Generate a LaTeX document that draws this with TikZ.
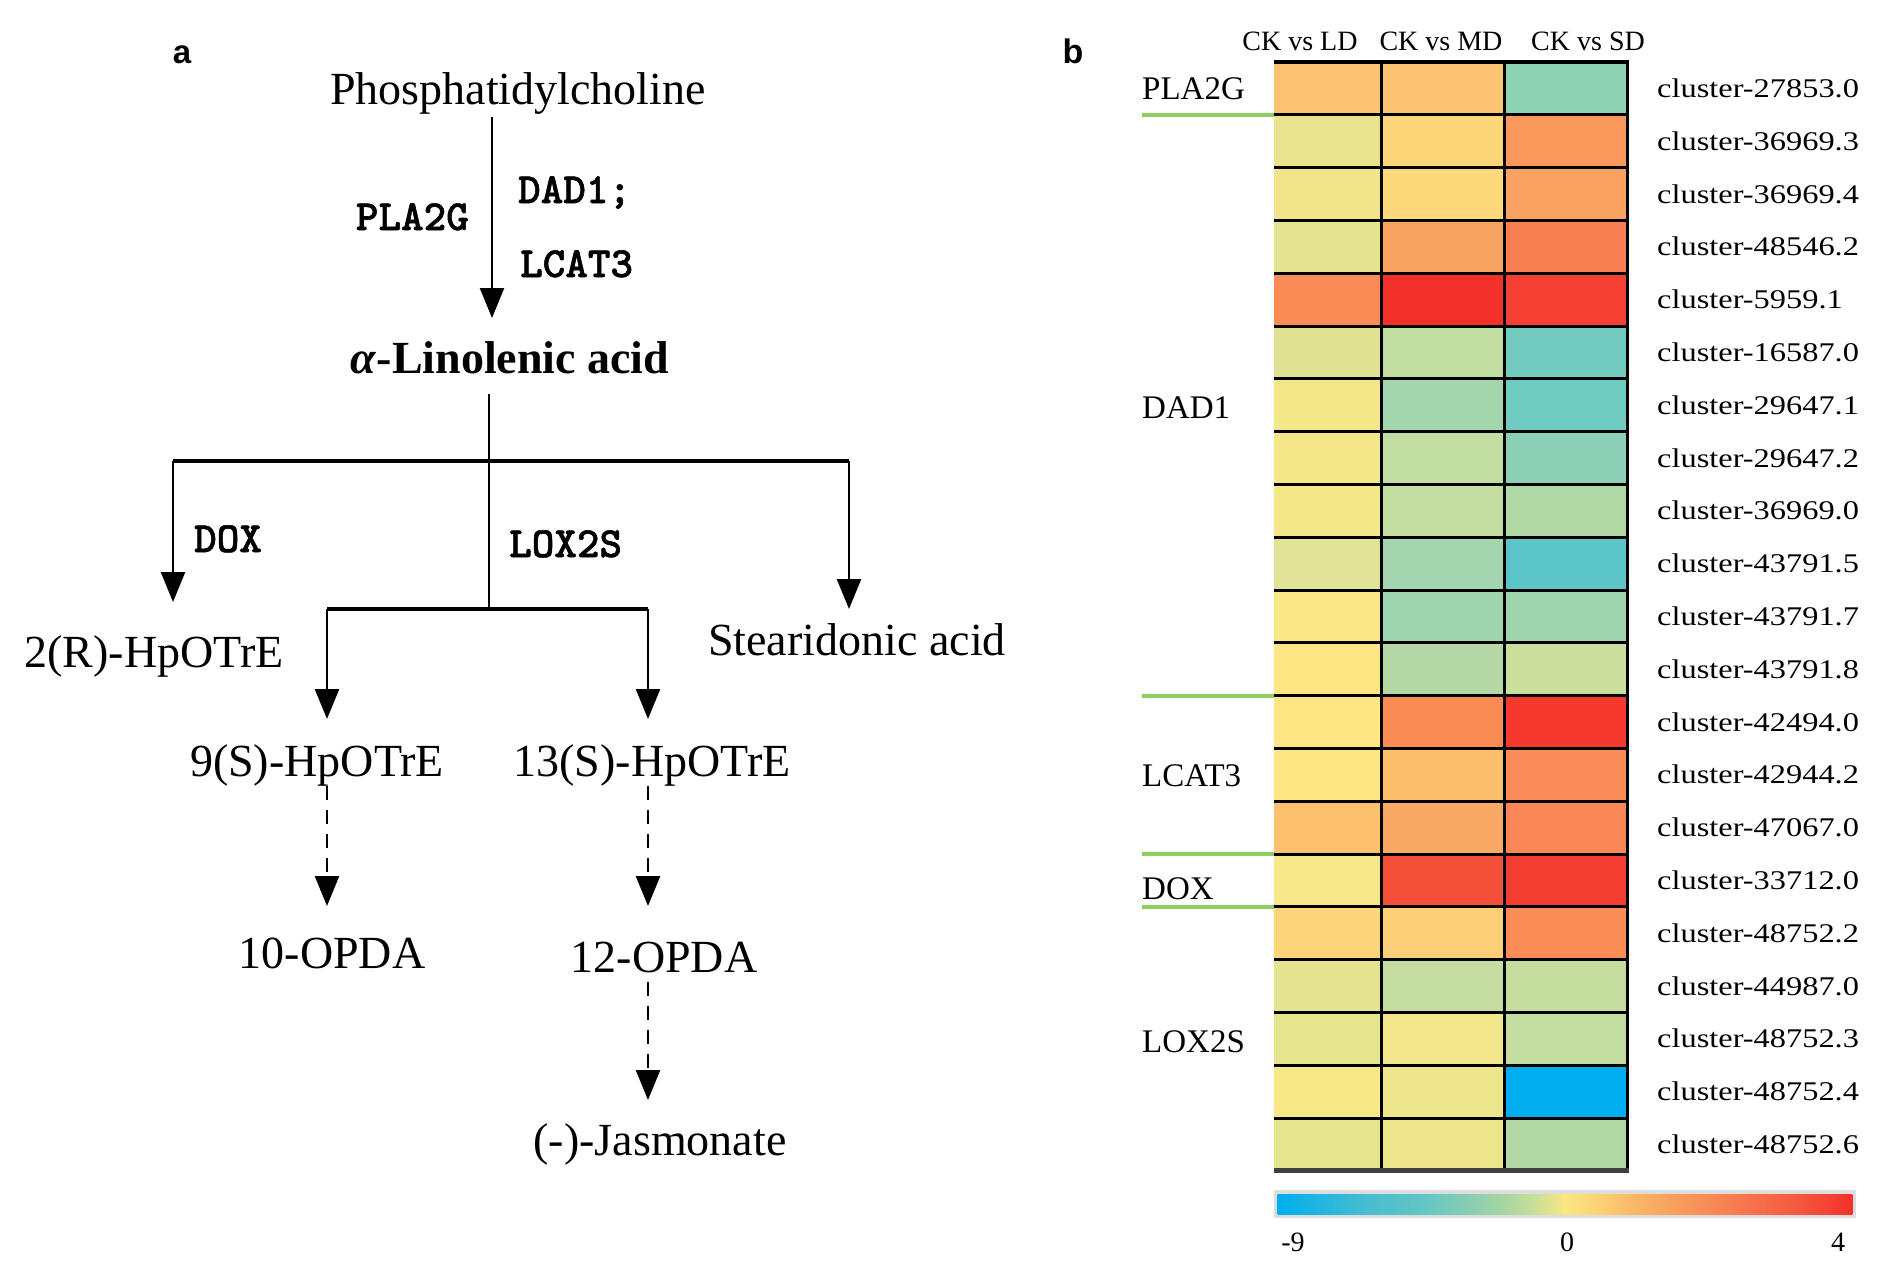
\documentclass[tikz,border=0pt]{standalone}
\usepackage{fontspec}
\setmainfont{Liberation Serif}
\newfontfamily\panelfont{Liberation Sans}
\newfontfamily\clusterfont{Liberation Serif}[FakeStretch=1.2]
\newfontfamily\enzfont{lmmonolt10-bold}[Extension=.otf, FakeBold=1.3]
\usetikzlibrary{arrows.meta}
\definecolor{linegreen}{HTML}{8CD05C}
\definecolor{barborder}{HTML}{DDDDDD}
\begin{document}
\begin{tikzpicture}[x=1pt,y=-1pt,
  mtxt/.style={font=\fontsize{46}{50}\selectfont, inner sep=0pt, anchor=base, text height=32pt, text depth=10pt},
  enz/.style={font=\fontsize{43}{46}\selectfont\enzfont, inner sep=0pt, anchor=base west},
  panel/.style={font=\fontsize{34}{36}\selectfont\panelfont\bfseries, inner sep=0pt, anchor=base},
  ln/.style={line width=2.5pt, draw=black},
  barln/.style={line width=3.5pt, draw=black},
  arr/.style={ln, -{Triangle[length=30pt,width=24pt]}},
  darr/.style={arr, dash pattern=on 14pt off 10pt},
  hdr/.style={font=\fontsize{28}{30}\selectfont, inner sep=0pt, anchor=base},
  clab/.style={font=\fontsize{27}{30}\selectfont\clusterfont, inner sep=0pt, anchor=west},
  glab/.style={font=\fontsize{33}{36}\selectfont, inner sep=0pt, anchor=base west},
  grid/.style={line width=3pt, draw=black},
  grn/.style={line width=4pt, draw=linegreen},
  cbl/.style={font=\fontsize{28}{30}\selectfont, inner sep=0pt, anchor=base}
]
\useasboundingbox (0,0) rectangle (1899,1277);

% ---------------- panel a ----------------
\node[panel, font=\fontsize{33}{36}\selectfont\panelfont\bfseries] (pa) at (182,63) {a};
\node[mtxt] (phos) at (518,104) {Phosphatidylcholine};
\node[enz, anchor=base east] (pla) at (469,230) {PLA2G};
\node[enz] (dad) at (518,203) {DAD1;};
\node[enz] (lcat) at (520,277) {LCAT3};
\node[mtxt, font=\fontsize{46}{50}\selectfont\bfseries] (lin) at (510,373) {\textit{α}-Linolenic acid};
\node[enz] (dox) at (194,552) {DOX};
\node[enz] (lox) at (509,557) {LOX2S};
\node[mtxt] (r2) at (154,667) {2(R)-HpOTrE};
\node[mtxt] (st) at (857,655) {Stearidonic acid};
\node[mtxt] (s9) at (317,776) {9(S)-HpOTrE};
\node[mtxt] (s13) at (652,776) {13(S)-HpOTrE};
\node[mtxt] (o10) at (332,968) {10-OPDA};
\node[mtxt] (o12) at (664,972) {12-OPDA};
\node[mtxt] (jas) at (660,1155) {(-)-Jasmonate};

\coordinate (a1) at (492,318);
\coordinate (b0) at (489,461);
\coordinate (bl) at (173,461);
\coordinate (br) at (849,461);
\coordinate (tr2) at (173,602);
\coordinate (tst) at (849,609);
\coordinate (c0) at (489,609);
\coordinate (cl) at (327,609);
\coordinate (cr) at (648,609);
\coordinate (t9) at (327,719);
\coordinate (t13) at (648,719);
\coordinate (t10) at (327,906);
\coordinate (t12) at (648,906);
\coordinate (tj) at (648,1100);

\draw[arr, shorten <=3pt] (phos.south -| a1) -- (a1);
\draw[ln, shorten <=11pt] (lin.south -| b0) -- (c0);
\draw[barln] (bl) -- (br);
\draw[arr] (bl) -- (tr2);
\draw[arr] (br) -- (tst);
\draw[barln] (cl) -- (cr);
\draw[arr] (cl) -- (t9);
\draw[arr] (cr) -- (t13);
\draw[darr] (s9.south -| t9) -- (t10);
\draw[darr] (s13.south -| t13) -- (t12);
\draw[darr] (o12.south -| t12) -- (tj);

% ---------------- panel b ----------------
\node[panel] (pb) at (1073,63) {b};
\node[hdr] (hld) at (1300,50) {CK vs LD};
\node[hdr] (hmd) at (1441,50) {CK vs MD};
\node[hdr] (hsd) at (1588,50) {CK vs SD};

\foreach \cA/\cB/\cC/\lab [count=\i from 0] in {
  FCC472/FCC472/8FD2B4/cluster-27853.0,
  E7E38E/FDD67A/FA995B/cluster-36969.3,
  F2E48A/FDD97C/FAA262/cluster-36969.4,
  E5E390/F9A363/F87F52/cluster-48546.2,
  F98B56/F4302B/F53F33/cluster-5959.1,
  DEE293/C2DDA0/73CBBF/cluster-16587.0,
  F4E789/A3D6AD/70CBC0/cluster-29647.1,
  F4E789/C1DDA2/8DD0B7/cluster-29647.2,
  F4E789/C4DEA1/B1D9A5/cluster-36969.0,
  E1E397/A3D6AE/5CC5CA/cluster-43791.5,
  FBE785/9FD5AE/9FD5AE/cluster-43791.7,
  FCE784/B4D9A6/CADF9C/cluster-43791.8,
  FCE784/F98B55/F43A2E/cluster-42494.0,
  FCE784/FCBF6E/F98C58/cluster-42944.2,
  FCC06E/F9A964/F98657/cluster-47067.0,
  F6E78A/F4503A/F43D31/cluster-33712.0,
  FDD57B/FDCE78/F98F57/cluster-48752.2,
  E6E390/C4DCA0/C5DEA0/cluster-44987.0,
  E7E48E/F1E68A/C3DDA1/cluster-48752.3,
  F8E888/EEE68D/00AEEF/cluster-48752.4,
  E7E48E/EEE68D/B1D8A5/cluster-48752.6} {
  \definecolor{cellA}{HTML}{\cA}
  \definecolor{cellB}{HTML}{\cB}
  \definecolor{cellC}{HTML}{\cC}
  \fill[cellA] (1274,{62+\i*52.8}) rectangle (1381,{114.8+\i*52.8});
  \fill[cellB] (1381,{62+\i*52.8}) rectangle (1504,{114.8+\i*52.8});
  \fill[cellC] (1504,{62+\i*52.8}) rectangle (1627,{114.8+\i*52.8});
  \node[clab] (cl\i) at (1657,{88.4+\i*52.8}) {\lab};
}
\foreach \k in {1,...,20} \draw[grid] (1274,{62+\k*52.8}) -- (1627,{62+\k*52.8});
\foreach \x in {1381,1504,1627} \draw[grid] (\x,62) -- (\x,1170.8);
\draw[grid, line width=4pt] (1274,62) -- (1628.5,62);
\draw[line width=5pt, draw=black!75] (1274,1170.8) -- (1628.5,1170.8);
\foreach \k in {1,12,15,16} \draw[grn] (1142,{62+\k*52.8}) -- (1274,{62+\k*52.8});

\node[glab] (gpla) at (1142,99) {PLA2G};
\node[glab] (gdad) at (1142,418) {DAD1};
\node[glab] (glcat) at (1142,786) {LCAT3};
\node[glab] (gdox) at (1142,899) {DOX};
\node[glab] (glox) at (1142,1052) {LOX2S};

% colour bar
\fill[barborder] (1274,1190) rectangle (1856,1218);
\foreach \fa/\fb/\ka/\kb in {0/0.15/00AEEF/45BDD0, 0.15/0.25/45BDD0/62C5C5, 0.25/0.33/62C5C5/86CDB3,
  0.33/0.40/86CDB3/AAD7A0, 0.40/0.46/AAD7A0/D4E195, 0.46/0.50/D4E195/FBE682,
  0.50/0.55/FBE682/FCD676, 0.55/0.62/FCD676/FBB768, 0.62/0.70/FBB768/F99C5C,
  0.70/0.80/F99C5C/F77A50, 0.80/0.90/F77A50/F65A40, 0.90/1.0/F65A40/F4302B} {
  \definecolor{sA}{HTML}{\ka}
  \definecolor{sB}{HTML}{\kb}
  \shade[left color=sA, right color=sB] ({1278+574*\fa-0.3},1194) rectangle ({1278+574*\fb+0.3},1214);
}
\node[cbl] (cmin) at (1293,1251) {-9};
\node[cbl] (czero) at (1567,1251) {0};
\node[cbl] (cmax) at (1838,1251) {4};
\end{tikzpicture}
\end{document}
